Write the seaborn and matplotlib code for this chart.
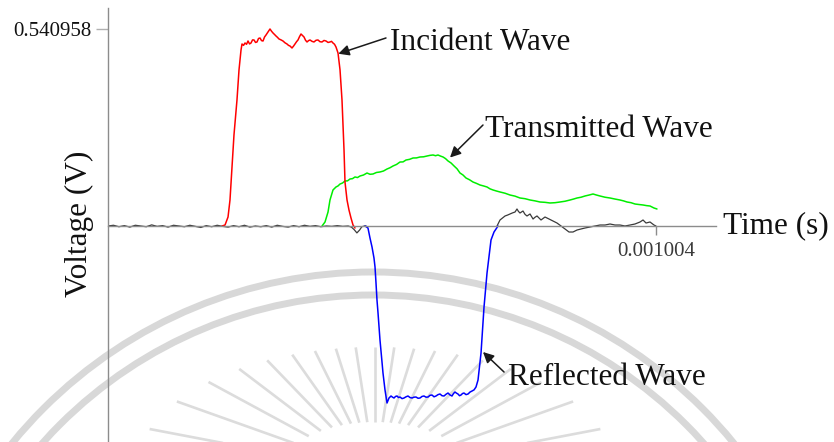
import numpy as np
import pandas as pd
import matplotlib
matplotlib.use("Agg")
import matplotlib.pyplot as plt
from matplotlib.patches import Circle
import seaborn as sns

# ---------------------------------------------------------------
# Split-Hopkinson bar signals (time in microseconds, voltage in V)
# ---------------------------------------------------------------
# incident-bar gauge, baseline before the reflected pulse
t_base_pre = [0, 10, 20, 30, 40, 50, 60, 70, 80, 90, 100, 110, 120, 130, 140,
              150, 160, 170, 180, 190, 200, 210, 220, 230, 240, 250, 260, 270,
              280, 290, 300, 310, 320, 330, 340, 350, 360, 370, 380, 390, 400,
              410, 420, 430, 440, 446, 451, 456, 461, 465, 470, 473]
v_base_pre = [0.000, 0.002, -0.002, 0.001, -0.003, 0.002, 0.000, -0.002, 0.003,
              -0.001, 0.001, -0.003, 0.002, 0.000, -0.002, 0.002, -0.001, -0.004,
              0.001, -0.002, 0.002, -0.001, -0.003, 0.001, -0.002, 0.002, -0.003,
              0.000, -0.002, 0.001, -0.003, 0.002, -0.001, -0.003, 0.001, -0.002,
              0.002, -0.001, 0.001, -0.002, 0.000, -0.001, 0.001, -0.001, 0.000,
              -0.003, -0.010, -0.019, -0.011, -0.002, 0.000, 0.000]

# incident-bar gauge, tail after the reflected pulse
t_base_post = [712.7, 718.2, 722.8, 727.4, 732.0, 736.5, 741.1, 745.7, 749.3,
               752.0, 754.8, 760.3, 764.0, 767.6, 773.2, 778.7, 782.3, 786.0,
               793.3, 800.6, 808.0, 815.3, 822.6, 830.0, 837.3, 844.6, 851.9,
               859.3, 866.6, 873.9, 883.1, 892.2, 901.4, 910.6, 919.7, 928.9,
               938.0, 947.2, 956.4, 965.5, 974.7, 980.2, 985.7, 993.0, 1000.3,
               1004.0]
v_base_post = [0.000, 0.0165, 0.022, 0.0275, 0.030, 0.033, 0.036, 0.0384, 0.0467,
               0.040, 0.0357, 0.0412, 0.032, 0.0275, 0.033, 0.0192, 0.024, 0.0275,
               0.0165, 0.0247, 0.0192, 0.0137, 0.0082, 0.000, -0.0082, -0.0165,
               -0.0165, -0.011, -0.0082, -0.0055, -0.0027, 0.000, 0.0027, 0.0027,
               0.0055, 0.0027, 0.0027, 0.000, 0.0027, 0.0055, 0.011, 0.0165,
               0.0082, 0.011, 0.0027, 0.000]

# incident pulse
t_incident = [208.9, 214.4, 219.9, 223.5, 227.2, 230.8, 236.3, 240.0, 243.7, 245.5,
              248.3, 251.0, 253.8, 256.5, 259.3, 262.0, 264.8, 267.5, 270.3, 273.0,
              275.8, 278.5, 281.3, 284.0, 286.8, 289.5, 293.1, 296.8, 299.5, 302.3,
              305.0, 307.8, 310.5, 313.3, 317.0, 320.6, 324.3, 327.9, 330.7, 333.4,
              337.1, 339.9, 342.6, 345.4, 348.1, 350.9, 353.6, 356.4, 359.1, 361.9,
              364.6, 367.4, 370.1, 373.8, 377.4, 381.1, 384.7, 388.4, 392.1, 395.7,
              399.4, 403.1, 406.7, 409.5, 412.2, 415.0, 417.7, 421.4, 425.1, 428.7,
              432.4, 434.2, 437.9, 441.5, 445.2, 448.9, 452.5]
v_incident = [0.000, 0.0027, 0.0247, 0.0714, 0.162, 0.2499, 0.346, 0.4284, 0.4833,
              0.4998, 0.4960, 0.5025, 0.4990, 0.5080, 0.5000, 0.5025, 0.5110, 0.5108,
              0.5040, 0.5053, 0.5150, 0.5162, 0.5090, 0.5080, 0.5190, 0.5245, 0.5327,
              0.540958, 0.5350, 0.5300, 0.5260, 0.5217, 0.5180, 0.5135, 0.5110,
              0.5080, 0.5030, 0.4998, 0.4960, 0.4943, 0.4888, 0.4940, 0.4998, 0.5060,
              0.5108, 0.5200, 0.5272, 0.5230, 0.5190, 0.5100, 0.5053, 0.5090, 0.5108,
              0.5070, 0.5053, 0.5100, 0.5108, 0.5060, 0.5053, 0.5095, 0.5080, 0.5040,
              0.5053, 0.5070, 0.5025, 0.4990, 0.4915, 0.4751, 0.4284, 0.346, 0.2087,
              0.1208, 0.0714, 0.0439, 0.022, 0.0027, -0.0055]

# reflected pulse
t_reflected = [470.9, 476.3, 480.0, 483.7, 487.3, 489.2, 491.0, 492.8, 494.7, 498.3,
               502.0, 503.8, 507.5, 511.2, 514.8, 518.5, 521.3, 524.0, 526.8, 529.5,
               532.3, 535.0, 538.7, 542.3, 546.0, 549.6, 553.3, 557.0, 560.6, 564.3,
               568.0, 571.6, 575.3, 578.9, 582.6, 586.3, 589.9, 593.6, 597.3, 600.9,
               604.6, 608.3, 611.9, 615.6, 619.3, 622.9, 626.6, 630.2, 633.0, 635.7,
               638.5, 641.2, 644.0, 646.7, 649.5, 652.2, 655.9, 659.6, 663.2, 666.9,
               670.6, 674.2, 677.9, 683.4, 688.9, 694.4, 701.7, 707.2, 714.5]
v_reflected = [0.000, -0.0055, -0.033, -0.0577, -0.0879, -0.1126, -0.1565, -0.2032,
               -0.2389, -0.313, -0.3735, -0.4037, -0.4503, -0.486, -0.4723, -0.4668,
               -0.4700, -0.4723, -0.4680, -0.4668, -0.4710, -0.4696, -0.4740, -0.4723,
               -0.4690, -0.4668, -0.4710, -0.4723, -0.4700, -0.4696, -0.4730, -0.4723,
               -0.4680, -0.4668, -0.4700, -0.4696, -0.4650, -0.4641, -0.4690, -0.4668,
               -0.4630, -0.4613, -0.4660, -0.4668, -0.4620, -0.4586, -0.4640, -0.4668,
               -0.4600, -0.4558, -0.4590, -0.4613, -0.4660, -0.4641, -0.4600, -0.4586,
               -0.4630, -0.4613, -0.4560, -0.4531, -0.4500, -0.4421, -0.4229, -0.3487,
               -0.2224, -0.1291, -0.0384, -0.0165, 0.000]

# transmitted pulse
t_transmitted = [392.1, 397.6, 403.1, 406.7, 412.2, 417.7, 421.4, 425.1, 429.6, 434.2,
                 438.8, 443.4, 447.9, 452.5, 457.1, 461.7, 468.1, 474.5, 480.0, 485.5,
                 491.9, 498.3, 504.7, 511.2, 516.7, 522.2, 528.6, 535.0, 540.5, 546.0,
                 552.4, 558.8, 565.2, 571.6, 578.1, 584.5, 590.0, 595.5, 600.1, 604.6,
                 609.2, 613.8, 618.4, 623.0, 628.5, 634.0, 639.5, 644.9, 650.4, 655.9,
                 662.3, 668.7, 675.1, 681.5, 688.0, 694.4, 699.9, 705.4, 711.8, 718.2,
                 727.4, 736.5, 745.7, 754.8, 764.0, 773.2, 782.3, 791.5, 800.6, 809.8,
                 819.0, 828.1, 837.3, 846.5, 852.9, 859.3, 866.6, 873.9, 881.3, 888.6,
                 895.0, 901.4, 910.6, 919.7, 928.9, 938.0, 944.4, 950.9, 958.2, 965.5,
                 972.8, 980.2, 986.6, 993.0, 1000.3, 1005.8]
v_transmitted = [0.000, 0.011, 0.0384, 0.0714, 0.0989, 0.1071, 0.1100, 0.1153, 0.1180,
                 0.1236, 0.1240, 0.1291, 0.1300, 0.1346, 0.1330, 0.1373, 0.1400, 0.1455,
                 0.1420, 0.1428, 0.1470, 0.1483, 0.1510, 0.1565, 0.1600, 0.1648, 0.1690,
                 0.1757, 0.1760, 0.1812, 0.1830, 0.1867, 0.1870, 0.1895, 0.1900, 0.1922,
                 0.1940, 0.1950, 0.1930, 0.1950, 0.1920, 0.1895, 0.1850, 0.1785, 0.1730,
                 0.1648, 0.1570, 0.1455, 0.1400, 0.1318, 0.1270, 0.1208, 0.1170, 0.1126,
                 0.1100, 0.1071, 0.1020, 0.0989, 0.0960, 0.0934, 0.0900, 0.0851, 0.0820,
                 0.0769, 0.0750, 0.0714, 0.0690, 0.0659, 0.0650, 0.0632, 0.0640, 0.0659,
                 0.0680, 0.0714, 0.0740, 0.0769, 0.0790, 0.0824, 0.0850, 0.0879, 0.0850,
                 0.0824, 0.0790, 0.0769, 0.0740, 0.0714, 0.0690, 0.0659, 0.0640, 0.0604,
                 0.0590, 0.0577, 0.0560, 0.0549, 0.0494, 0.0467]

x_tick_values = [0.001004]
x_tick_labels = ["0.001004"]
y_tick_values = [0.540958]
y_tick_labels = ["0.540958"]

US = 1e-6  # microseconds -> seconds

sns.set_theme(style="white")
plt.rcParams["font.family"] = ["Liberation Serif", "DejaVu Serif"]

W, H = 834, 442
fig = plt.figure(figsize=(W / 100, H / 100), dpi=100)
fig.patch.set_facecolor("white")

# faint seal in the background
bg = fig.add_axes([0, 0, 1, 1], zorder=0)
bg.set_xlim(0, W)
bg.set_ylim(H, 0)
bg.axis("off")
seal_c = (373, 738)
for r in (466, 443):
    bg.add_patch(Circle(seal_c, r, fill=False, lw=5.0, ec="#d8d8d8"))
sun_c = (375, 472)
for k in range(-9, 10):
    phi = np.deg2rad(90 + 8.8 * k)
    c, s = np.cos(phi), np.sin(phi)
    r_out = 1 / np.sqrt((c / 240) ** 2 + (s / 125) ** 2)
    r_in = 1 / np.sqrt((c / 95) ** 2 + (s / 50) ** 2)
    bg.plot([sun_c[0] + r_in * c, sun_c[0] + r_out * c],
            [sun_c[1] - r_in * s, sun_c[1] - r_out * s],
            color="#dcdcdc", lw=1.9, solid_capstyle="butt")

# main signal axes
left, right, top = 108, 716, 8
ax = fig.add_axes([left / W, 0, (right - left) / W, (H - top) / H], zorder=1)
ax.patch.set_alpha(0)

segments = [
    (t_base_pre, v_base_pre, "#3a3a3a", 0.9),
    (t_base_post, v_base_post, "#3a3a3a", 0.9),
    (t_transmitted, v_transmitted, "#00ee00", 1.1),
    (t_incident, v_incident, "#ff0000", 1.1),
    (t_reflected, v_reflected, "#0000ff", 1.1),
]
for t, v, col, lw in segments:
    df = pd.DataFrame({"t": np.asarray(t) * US, "v": v})
    sns.lineplot(data=df, x="t", y="v", color=col, lw=lw, sort=False,
                 estimator=None, ax=ax)

ax.set_xlim(0, 1113.9 * US)
ax.set_ylim(-0.5931, 0.5986)
ax.set_xlabel("")
ax.set_ylabel("")

for side in ("top", "right"):
    ax.spines[side].set_visible(False)
ax.spines["left"].set_color("#8c8c8c")
ax.spines["left"].set_linewidth(1.0)
ax.spines["bottom"].set_color("#8c8c8c")
ax.spines["bottom"].set_linewidth(1.0)
ax.spines["bottom"].set_position(("data", 0))

ax.set_xticks(x_tick_values)
ax.set_xticklabels(x_tick_labels)
ax.set_yticks(y_tick_values)
ax.set_yticklabels(y_tick_labels)
ax.tick_params(axis="x", direction="out", length=6.5, width=1.0, color="#8c8c8c",
               pad=5, labelsize=15, labelcolor="#3a3a3a", bottom=True)
ax.tick_params(axis="y", direction="out", length=8.6, width=1.0, color="#b0b0b0",
               pad=3, labelsize=15, labelcolor="#111111", left=True)


def fpx(x, y):
    return x / W, 1 - y / H


txt = dict(fontsize=22.5, color="#111111")
fig.text(*fpx(79, 224), "Voltage (V)", rotation=90, ha="center", va="center", **txt)
fig.text(*fpx(723, 233), "Time (s)", ha="left", va="baseline", **txt)
fig.text(*fpx(390, 50), "Incident Wave", ha="left", va="baseline", **txt)
fig.text(*fpx(485, 137), "Transmitted Wave", ha="left", va="baseline", **txt)
fig.text(*fpx(508, 385), "Reflected Wave", ha="left", va="baseline", **txt)

arrow = dict(arrowstyle="-|>", color="#1a1a1a", lw=1.1,
             mutation_scale=16, shrinkA=0, shrinkB=0)
ax.annotate("", xy=(422.0 * US, 0.473), xytext=(509.3 * US, 0.5163), arrowprops=arrow)
ax.annotate("", xy=(626.6 * US, 0.188), xytext=(687.0 * US, 0.2773), arrowprops=arrow)
ax.annotate("", xy=(687.0 * US, -0.346), xytext=(725.6 * US, -0.4010), arrowprops=arrow)

fig.savefig("out.png", dpi=100, facecolor="white")
